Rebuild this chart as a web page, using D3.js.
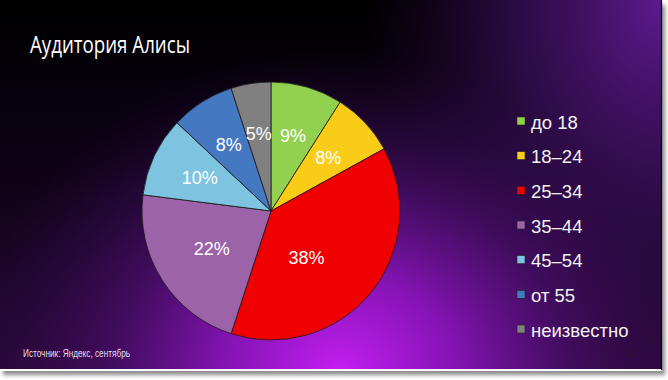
<!DOCTYPE html>
<html>
<head>
<meta charset="utf-8">
<script src="https://cdn.jsdelivr.net/npm/d3@7"></script>
<style>
  html, body { margin: 0; padding: 0; background: #fff; }
  svg { display: block; }
</style>
</head>
<body>
<div id="chart"></div>
<script>
// данные диаграммы
const categories = ["до 18", "18–24", "25–34", "35–44", "45–54", "от 55", "неизвестно"];
const shares = [9, 8, 38, 22, 10, 8, 5];
const colors = ["#92d050", "#f9cc18", "#f00000", "#9c63a8", "#7ec4e0", "#4478c0", "#808080"];
const title = "Аудитория Алисы";
const source = "Источник: Яндекс, сентябрь";
const pageNo = "22";

const W = 668, H = 380;
const slideW = 661, slideH = 369;

const svg = d3.select("#chart").append("svg")
    .attr("width", W)
    .attr("height", H);

const defs = svg.append("defs");

// фон слайда
const base = defs.append("linearGradient").attr("id", "base")
    .attr("x1", 0).attr("y1", 0).attr("x2", 0).attr("y2", 1);
base.append("stop").attr("offset", 0).attr("stop-color", "#000000");
base.append("stop").attr("offset", 0.45).attr("stop-color", "#0c0214");
base.append("stop").attr("offset", 1).attr("stop-color", "#2a0838");

const glow = defs.append("radialGradient").attr("id", "glow")
    .attr("gradientUnits", "userSpaceOnUse")
    .attr("cx", 340).attr("cy", 372).attr("r", 380)
    .attr("gradientTransform", "translate(340,372) scale(1,0.85) translate(-340,-372)");
glow.append("stop").attr("offset", 0).attr("stop-color", "#c41ef2").attr("stop-opacity", 1);
glow.append("stop").attr("offset", 0.3).attr("stop-color", "#8a14bc").attr("stop-opacity", 0.95);
glow.append("stop").attr("offset", 0.6).attr("stop-color", "#4a0e6c").attr("stop-opacity", 0.75);
glow.append("stop").attr("offset", 1).attr("stop-color", "#2a0840").attr("stop-opacity", 0);

const corner = defs.append("radialGradient").attr("id", "corner")
    .attr("gradientUnits", "userSpaceOnUse")
    .attr("cx", 665).attr("cy", 0).attr("r", 300)
    .attr("gradientTransform", "translate(665,0) scale(1,1.3) translate(-665,0)");
corner.append("stop").attr("offset", 0).attr("stop-color", "#5e1a90").attr("stop-opacity", 1);
corner.append("stop").attr("offset", 0.5).attr("stop-color", "#3e1060").attr("stop-opacity", 0.7);
corner.append("stop").attr("offset", 1).attr("stop-color", "#2a0840").attr("stop-opacity", 0);

const blur = defs.append("filter").attr("id", "blur")
    .attr("x", -0.05).attr("y", -0.05).attr("width", 1.1).attr("height", 1.1);
blur.append("feGaussianBlur").attr("stdDeviation", 2);

// тень и рамка
svg.append("rect")
    .attr("x", 3).attr("y", 5)
    .attr("width", slideW + 1).attr("height", slideH + 1)
    .attr("fill", "#8a8a8a")
    .attr("filter", "url(#blur)");
svg.append("rect")
    .attr("x", 0).attr("y", 0)
    .attr("width", slideW + 1).attr("height", slideH + 2)
    .attr("fill", "#ffffff");

const slide = svg.append("g");
slide.append("rect").attr("width", slideW).attr("height", slideH).attr("fill", "url(#base)");
slide.append("rect").attr("width", slideW).attr("height", slideH).attr("fill", "url(#corner)");
slide.append("rect").attr("width", slideW).attr("height", slideH).attr("fill", "url(#glow)");
slide.append("line")
    .attr("x1", slideW + 0.5).attr("x2", slideW + 0.5)
    .attr("y1", 0).attr("y2", slideH + 1)
    .attr("stroke", "#000").attr("stroke-width", 1.2);

// заголовок
slide.append("text")
    .attr("x", 30).attr("y", 53)
    .attr("fill", "#ffffff")
    .attr("font-family", "'Open Sans', 'Noto Sans', sans-serif")
    .attr("font-size", 24)
    .attr("textLength", 160)
    .attr("lengthAdjust", "spacingAndGlyphs")
    .text(title);

// круговая диаграмма
const cx = 271, cy = 211, radius = 129;
const total = d3.sum(shares);

const pie = d3.pie().sort(null).value(d => d);
const arcs = pie(shares);
const arc = d3.arc().innerRadius(0).outerRadius(radius);

const g = slide.append("g").attr("transform", `translate(${cx},${cy})`);

g.selectAll("path.slice")
    .data(arcs)
    .enter().append("path")
    .attr("class", "slice")
    .attr("d", arc)
    .attr("fill", (d, i) => colors[i])
    .attr("stroke", "#1a1a1a")
    .attr("stroke-width", 0.8)
    .attr("stroke-linejoin", "round");

// подписи: крупные доли — ближе к центру и чуть дальше по кругу
function labelPos(d) {
    const frac = d.data / total;
    const r = radius * (0.61 - 0.55 * Math.max(0, frac - 0.1));
    const a = (d.startAngle + d.endAngle) / 2 + Math.max(0, frac - 0.25) * 1.8;
    return [r * Math.sin(a), -r * Math.cos(a)];
}

g.selectAll("text.pct")
    .data(arcs)
    .enter().append("text")
    .attr("class", "pct")
    .attr("transform", d => `translate(${labelPos(d)})`)
    .attr("text-anchor", "middle")
    .attr("dy", "0.36em")
    .attr("fill", "#ffffff")
    .attr("font-family", "'Liberation Sans', Arial, sans-serif")
    .attr("font-size", 18)
    .text(d => d.data + "%");

// легенда
const ly = d3.scalePoint().domain(categories).range([122, 330]);
const legend = slide.append("g");

const item = legend.selectAll("g.item")
    .data(categories)
    .enter().append("g")
    .attr("class", "item")
    .attr("transform", d => `translate(517,${ly(d)})`);

item.append("rect")
    .attr("x", 0).attr("y", -5)
    .attr("width", 8).attr("height", 8)
    .attr("fill", (d, i) => colors[i])
    .attr("stroke", "#222")
    .attr("stroke-width", 0.6);

item.append("text")
    .attr("x", 14).attr("y", 0)
    .attr("dy", "0.36em")
    .attr("fill", "#f2f2f2")
    .attr("font-family", "'Liberation Sans', Arial, sans-serif")
    .attr("font-size", 18.5)
    .text(d => d);

// подвал
slide.append("text")
    .attr("x", 23).attr("y", 357)
    .attr("fill", "#e4dcea")
    .attr("font-family", "'Liberation Sans', Arial, sans-serif")
    .attr("font-size", 10)
    .attr("textLength", 107)
    .attr("lengthAdjust", "spacingAndGlyphs")
    .text(source);

slide.append("text")
    .attr("x", 636).attr("y", 357)
    .attr("text-anchor", "end")
    .attr("fill", "#2a1030")
    .attr("font-family", "'Liberation Sans', Arial, sans-serif")
    .attr("font-size", 10)
    .text(pageNo);
</script>
</body>
</html>
